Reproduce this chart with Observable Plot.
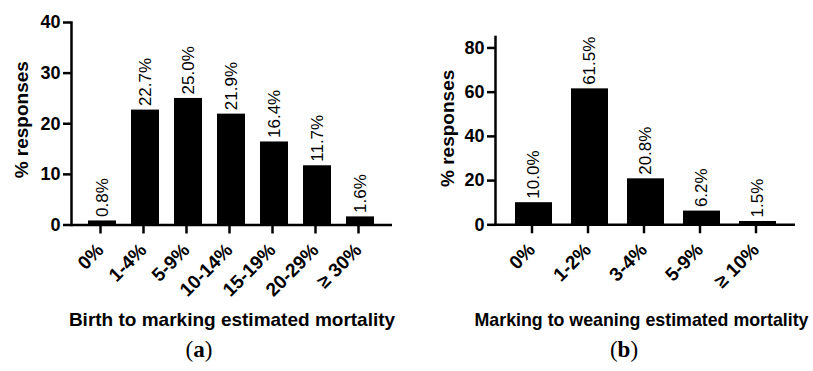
<!DOCTYPE html>
<html><head><meta charset="utf-8">
<script src="https://cdn.jsdelivr.net/npm/d3@7"></script>
<script src="https://cdn.jsdelivr.net/npm/@observablehq/plot@0.6"></script>
<style>
body{margin:0;background:#fff;}
#wrap{position:relative;width:813px;height:371px;background:#fff;overflow:hidden;font-family:"Liberation Sans",Arial,sans-serif;}
.panel{position:absolute;top:0;}
.cap{position:absolute;top:337px;font-family:"Liberation Serif","DejaVu Serif",serif;font-size:23px;color:#000;transform:translateX(-50%);white-space:nowrap;}
</style></head><body><div id="wrap"></div><script>
const catsA = ["0%", "1-4%", "5-9%", "10-14%", "15-19%", "20-29%", "≥ 30%"];
const valsA = [0.8, 22.7, 25.0, 21.9, 16.4, 11.7, 1.6];
const ticksA = [0, 10, 20, 30, 40];
const labelA = "Birth to marking estimated mortality";

const catsB = ["0%", "1-2%", "3-4%", "5-9%", "≥ 10%"];
const valsB = [10.0, 61.5, 20.8, 6.2, 1.5];
const ticksB = [0, 20, 40, 60, 80];
const labelB = "Marking to weaning estimated mortality";
const yTitle = "% responses";

const FONT = "'Liberation Sans', Arial, Helvetica, sans-serif";

function makeChart(cats, vals, yMax, yTicks, xLabel, o) {
  const data = cats.map((c, i) => ({cat: c, val: vals[i]}));
  return Plot.plot({
    width: o.width, height: 335,
    marginLeft: o.ml, marginRight: o.mr, marginTop: o.mt, marginBottom: o.mb,
    style: {fontFamily: FONT, fontSize: "17px", color: "#000", background: "transparent", overflow: "visible"},
    x: {domain: cats, paddingInner: 0.34, paddingOuter: 0.335},
    y: {domain: [0, yMax]},
    marks: [
      Plot.barY(data, {x: "cat", y: "val", fill: "#000"}),
      Plot.text(data, {x: "cat", y: "val", text: d => d.val.toFixed(1) + "%", rotate: -90, textAnchor: "start", dy: -4, fontSize: 17, fill: "#000"}),
      Plot.ruleY([0], {strokeWidth: 2.5, stroke: "#000"}),
      Plot.frame({anchor: "left", strokeWidth: 2.5, stroke: "#000"}),
      Plot.axisY({ticks: yTicks, tickSize: 8, tickPadding: 3, fontSize: 18, fontWeight: "bold", strokeWidth: 2.5, label: null}),
      Plot.axisX({tickSize: 9, tickPadding: 13, tickRotate: -45, dx: -2, fontSize: 19, fontWeight: "bold", strokeWidth: 2.5, label: null}),
      Plot.text([yTitle], {frameAnchor: "left", textAnchor: "middle", lineAnchor: "middle", rotate: -90, dx: o.ydx, dy: o.ydy, fontSize: 19, fontWeight: "bold", fill: "#000"}),
      Plot.text([xLabel], {frameAnchor: "bottom", textAnchor: "middle", lineAnchor: "bottom", dx: o.xdx, dy: 101, fontSize: o.xfs, fontWeight: "bold", fill: "#000"})
    ]
  });
}

const wrap = document.getElementById("wrap");
const a = makeChart(catsA, valsA, 40, ticksA, labelA, {width: 406, ml: 71, mr: 14, mt: 22, mb: 110.5, ydx: -50, ydy: -4, xdx: 0, xfs: 19});
a.classList.add("panel"); a.style.left = "0px";
const b = makeChart(catsB, valsB, 85, ticksB, labelB, {width: 407, ml: 89, mr: 18, mt: 36.4, mb: 110.7, ydx: -47.5, ydy: -2.5, xdx: -4, xfs: 17.8});
b.classList.add("panel"); b.style.left = "406px";
wrap.appendChild(a); wrap.appendChild(b);

for (const [t, x] of [["a", 199], ["b", 624]]) {
  const d = document.createElement("div");
  d.className = "cap";
  d.style.left = x + "px";
  d.innerHTML = "(<b>" + t + "</b>)";
  wrap.appendChild(d);
}
</script></body></html>
